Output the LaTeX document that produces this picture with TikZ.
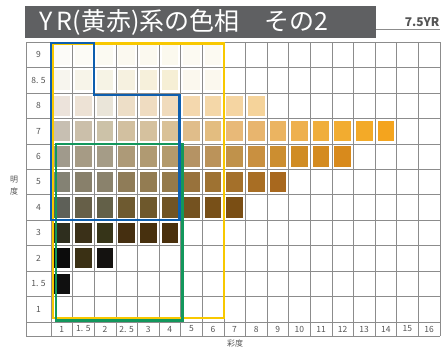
\documentclass[tikz,border=0pt]{standalone}
\usepackage{fontspec}
\setmainfont{Noto Sans CJK JP}
\usetikzlibrary{positioning}

\definecolor{titlegray}{HTML}{5F6062}
\definecolor{gridgray}{HTML}{8C8C8C}
\definecolor{labelgray}{HTML}{555555}
\definecolor{hueblue}{HTML}{0D5EAE}
\definecolor{hueyellow}{HTML}{F8C800}
\definecolor{huegreen}{HTML}{13975C}

% cell size (pt, 1pt = 1px of the reference)
\newcommand{\cw}{21.6}
\newcommand{\rh}{25.45}

\begin{document}
\begin{tikzpicture}[x=1pt, y=-1pt,
    gridline/.style={draw=gridgray, line width=0.5pt},
    rowlabel/.style={font=\fontsize{8.5}{9}\selectfont, text=labelgray},
    collabel/.style={font=\fontsize{8.5}{9}\selectfont, text=labelgray},
    axislabel/.style={font=\fontsize{8}{9}\selectfont, text=labelgray},
    hueframe/.style={line width=2.6pt, line join=miter},]
\useasboundingbox (0,0) rectangle (445,351);

% title bar
\fill[titlegray] (25,6) rectangle (376,38);
\node[anchor=west, text=white, font=\fontsize{25}{27}\selectfont] (title) at (36,22) {Y\,R(黄赤)系の色相　その2};
\node[anchor=base east, text=labelgray, font=\bfseries\fontsize{12}{13}\selectfont] (huename) at (443,26) {7.5YR};
\draw[gridgray, line width=0.6pt] (376,29) -- (440,29);

% grid
\foreach \i in {0,...,18} \draw[gridline] (51+\i*\cw,42) -- (51+\i*\cw,336);
\draw[gridline] (26,42) -- (26,336);
\foreach \j in {0,...,11} \draw[gridline] (26,42+\j*\rh) -- (440,42+\j*\rh);
\draw[gridline] (26,336) -- (440,336);

% value labels
\foreach \v [count=\j] in {9,8. 5,8,7,6,5,4,3,2,1. 5,1}
    \node[rowlabel] (v\j) at (38.5,42+\j*\rh-0.5*\rh) {\v};
% chroma labels
\foreach \c [count=\i] in {1,1. 5,2,2. 5,3,4,5,6,7,8,9,10,11,12,13,14,15,16}
    \node[collabel] (c\i) at (51+\i*\cw-0.5*\cw,329) {\c};

\node[axislabel] (valueaxis1) at (14,180) {明};
\node[axislabel, below=-3pt of valueaxis1] (valueaxis2) {度};
\node[axislabel] (chromaaxis) at (235,343) {彩度};

% colour chips: row/colour list
\foreach \j/\chips in {%
  1/{FCFBF8,FCFBF6,FBFAF2,FBF9F0,FBF9EF,FBF9EE,FCFAF2,FCFAF2},
  2/{F7F5EE,F7F4E9,F6F3E5,F6F1E0,F6F0DB,F6EFD5,FBF8EE,FBF8EE},
  3/{ECE3DB,EDE2D5,EAE5D9,EDDEC7,EFDCC1,F0DBBC,F4D8AE,F4D7A8,F5D5A2,F5D39A},
  4/{C7BFB2,CBBFAA,CCC2A8,D2C0A0,D5C19E,D9C197,E0BD8A,E3BD80,E8B978,E8B56E,EBB461,EEB04E,F0AE3C,F2AC30,F3AA28,F4A41E},
  5/{A09A8C,A69B85,A59C87,AD9A78,B09A72,B39A6C,B59364,BB935A,C0924B,C99040,CC8E30,D08C24,D48B20,D88A1C},
  6/{848274,88806B,8A826C,8F7C58,937C52,957A4A,98723C,9E7232,A4702A,A86E24,A8681E},
  7/{5E6058,665F48,636048,6E5A30,6E582C,705424,745220,785018,7A4E14},
  8/{2E2E1E,3A3018,363418,452F10,47300E,4A300C},
  9/{0C0C0C,3A3014,141210},
  10/{101010}}
  \foreach \hex [count=\i] in \chips {
    \definecolor{chip}{HTML}{\hex}
    \fill[chip] (51+\i*\cw-\cw+2.5,42+\j*\rh-\rh+2.6) rectangle (51+\i*\cw-2.5,42+\j*\rh-2.6);
  };

% hue ranges
\draw[hueframe, hueyellow] (53,43.5) rectangle (224,318);
\draw[hueframe, huegreen] (56,144) rectangle (182.5,320.5);
\draw[hueframe, hueblue] (51,43) -- (94,43) -- (94,95) -- (179.5,95) -- (179.5,220) -- (51,220) -- cycle;

\end{tikzpicture}
\end{document}
